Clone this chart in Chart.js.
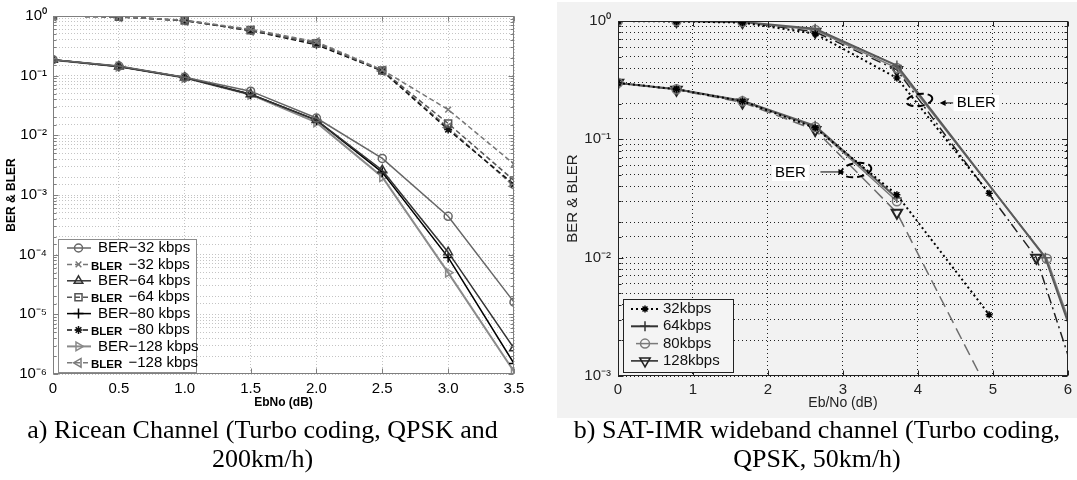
<!DOCTYPE html>
<html><head><meta charset="utf-8">
<script src="https://cdn.jsdelivr.net/npm/chart.js@4/dist/chart.umd.min.js"></script>
<style>
html,body{margin:0;padding:0;background:#fff;width:1077px;height:480px;overflow:hidden;}
#a{position:absolute;left:0;top:0;width:540px;height:418px;background:#fff;}
#b{position:absolute;left:557px;top:2px;width:520px;height:416px;background:#f2f2f2;}
.cap{position:absolute;font-family:'Liberation Serif','Times New Roman',serif;font-size:26px;line-height:29px;color:#000;text-align:center;white-space:nowrap;}
</style></head><body>
<div id="a"><canvas id="ca" width="540" height="418"></canvas></div>
<div id="b"><canvas id="cb" width="520" height="416"></canvas></div>
<div class="cap" style="left:0;top:415px;width:525px">a) Ricean Channel (Turbo coding, QPSK and<br>200km/h)</div>
<div class="cap" style="left:557px;top:415px;width:520px">b) SAT-IMR wideband channel (Turbo coding,<br>QPSK, 50km/h)</div>
<script>
// ---------- (a) Ricean channel data ----------
const ricX = [0, 0.5, 1, 1.5, 2, 2.5, 3, 3.5];
const ricBer32   = [0.185, 0.145, 0.094, 0.055, 0.0195, 0.0041, 4.4e-4, 1.6e-5];
const ricBler32  = [1.0, 0.97, 0.85, 0.60, 0.37, 0.125, 0.027, 0.0033];
const ricBer64   = [0.185, 0.143, 0.093, 0.049, 0.018, 0.0026, 1.1e-4, 2.7e-6];
const ricBler64  = [1.0, 0.97, 0.84, 0.58, 0.35, 0.122, 0.0158, 0.00175];
const ricBer80   = [0.184, 0.143, 0.093, 0.049, 0.018, 0.0024, 9.0e-5, 1.5e-6];
const ricBler80  = [1.0, 0.97, 0.84, 0.57, 0.33, 0.12, 0.0125, 0.0015];
const ricBer128  = [0.183, 0.142, 0.092, 0.048, 0.0165, 0.0020, 5.0e-5, 1.1e-6];
const ricBler128 = [1.0, 0.97, 0.84, 0.57, 0.36, 0.12, 0.0135, 0.0014];
const ricLabels = ['BER\u221232 kbps','BLER \u221232 kbps','BER\u221264 kbps','BLER \u221264 kbps',
                   'BER\u221280 kbps','BLER \u221280 kbps','BER\u2212128 kbps','BLER \u2212128 kbps'];

// ---------- (b) SAT-IMR data ----------
const satX      = [0, 0.78, 1.66, 2.63, 3.72];
const satX32    = [0, 0.78, 1.66, 2.63, 3.72, 4.95];
const satBer32  = [0.30, 0.265, 0.21, 0.125, 0.034, 0.0033];
const satBler32 = [1.0, 0.99, 0.97, 0.78, 0.33, 0.035];
const satBer64  = [0.30, 0.265, 0.212, 0.13, 0.032];
const satXBler64 = [0, 0.78, 1.66, 2.63, 3.72, 5.70, 6.5];
const satBler64 = [1.0, 1.0, 0.98, 0.86, 0.42, 0.0100, 0.00036];
const satBer80  = [0.30, 0.265, 0.21, 0.127, 0.030];
const satXBler80 = [0, 0.78, 1.66, 2.63, 3.72, 5.72, 6.5];
const satBler80 = [1.0, 1.0, 0.98, 0.84, 0.40, 0.0098, 0.0004];
const satXBer128 = [0, 0.78, 1.66, 2.63, 3.72, 5.58];
const satBer128 = [0.30, 0.263, 0.205, 0.12, 0.024, 0.00012];
const satXBler128 = [0, 0.78, 1.66, 2.63, 3.72, 5.58, 6.5];
const satBler128 = [1.0, 1.0, 0.98, 0.81, 0.386, 0.0100, 0.00016];
const satLabels = ['32kbps', '64kbps', '80kbps', '128kbps'];
const satNotes = [
  {text:'BER',  tx:2.30, ty:0.052, ex:3.18, ey:0.055, ax0:2.70, ax1:3.02, ay:0.053},
  {text:'BLER', tx:4.78, ty:0.203, ex:4.02, ey:0.215, ax0:4.47, ax1:4.29, ay:0.203}
];

const FA = "'Liberation Sans', Arial, Helvetica, sans-serif";
const SUP = {'-':'\u207B','0':'\u2070','1':'\u00B9','2':'\u00B2','3':'\u00B3','4':'\u2074','5':'\u2075','6':'\u2076','7':'\u2077','8':'\u2078','9':'\u2079'};
function logLabel(v){
  const e = Math.round(Math.log10(v));
  if (Math.abs(v/Math.pow(10,e) - 1) > 1e-6) return '';
  return '10' + String(e).split('').map(c => SUP[c]).join('');
}

function drawMarker(ctx, style, x, y, r, rot, color, lw){
  ctx.save();
  ctx.translate(x, y); ctx.rotate((rot||0)*Math.PI/180);
  ctx.strokeStyle = color; ctx.lineWidth = lw; ctx.setLineDash([]);
  ctx.beginPath();
  const d = r*Math.SQRT1_2;
  if (style === 'circle') ctx.arc(0,0,r,0,Math.PI*2);
  else if (style === 'triangle') { ctx.moveTo(0,-r); ctx.lineTo(r*0.866,r*0.5); ctx.lineTo(-r*0.866,r*0.5); ctx.closePath(); }
  else if (style === 'rect') ctx.rect(-d,-d,2*d,2*d);
  else if (style === 'cross') { ctx.moveTo(0,-r); ctx.lineTo(0,r); ctx.moveTo(-r,0); ctx.lineTo(r,0); }
  else if (style === 'crossRot') { ctx.moveTo(-d,-d); ctx.lineTo(d,d); ctx.moveTo(-d,d); ctx.lineTo(d,-d); }
  else if (style === 'star') { ctx.moveTo(0,-r); ctx.lineTo(0,r); ctx.moveTo(-r,0); ctx.lineTo(r,0); ctx.moveTo(-d,-d); ctx.lineTo(d,d); ctx.moveTo(-d,d); ctx.lineTo(d,-d); }
  ctx.stroke();
  ctx.restore();
}

function ser(xs, ys, label, color, dash, style, rot, r, lw, extra){
  return Object.assign({
    label, data: xs.map((x,i) => ({x, y: ys[i]})),
    borderColor: color, borderWidth: lw, borderDash: dash,
    pointStyle: style, pointRotation: rot, pointRadius: r,
    pointBorderColor: color, pointBackgroundColor: 'rgba(0,0,0,0)', pointBorderWidth: 1.5,
    fill: false, tension: 0
  }, extra || {});
}

function drawFrameAndTicks(chart, color){
  const ctx = chart.ctx, a = chart.chartArea;
  ctx.save();
  ctx.strokeStyle = color; ctx.lineWidth = 1; ctx.setLineDash([]);
  const L = Math.round(a.left)+0.5, T = Math.round(a.top)+0.5, R = Math.round(a.right)-0.5, B = Math.round(a.bottom)-0.5;
  ctx.strokeRect(L, T, R-L, B-T);
  ctx.beginPath();
  chart.scales.y.ticks.forEach(t => {
    const py = Math.round(chart.scales.y.getPixelForValue(t.value))+0.5;
    const len = t.major ? 5 : 3;
    ctx.moveTo(L, py); ctx.lineTo(L+len, py);
    ctx.moveTo(R, py); ctx.lineTo(R-len, py);
  });
  chart.scales.x.ticks.forEach(t => {
    const px = Math.round(chart.scales.x.getPixelForValue(t.value))+0.5;
    ctx.moveTo(px, B); ctx.lineTo(px, B-5);
    ctx.moveTo(px, T); ctx.lineTo(px, T+5);
  });
  ctx.stroke();
  ctx.restore();
}

// ---------- chart (a) ----------
const leftPlugin = {
  id: 'leftExtras',
  afterDatasetsDraw(chart){
    drawFrameAndTicks(chart, '#7f7f7f');
    const ctx = chart.ctx, a = chart.chartArea;
    const L = a.left + 5, R = a.left + 143, T = a.bottom - 135, B = a.bottom - 2;
    ctx.save();
    ctx.fillStyle = '#fff'; ctx.fillRect(L, T, R-L, B-T);
    ctx.strokeStyle = '#8c8c8c'; ctx.lineWidth = 1; ctx.strokeRect(Math.round(L)+0.5, Math.round(T)+0.5, R-L, B-T);
    chart.data.datasets.forEach((ds, i) => {
      const y = T + 9 + i*16.4;
      const isBler = ds.label.startsWith('BLER');
      ctx.strokeStyle = ds.borderColor; ctx.lineWidth = ds.borderWidth; ctx.setLineDash(ds.borderDash || []);
      ctx.beginPath(); ctx.moveTo(L+9, y); ctx.lineTo(L+(isBler?31:33), y); ctx.stroke(); ctx.setLineDash([]);
      drawMarker(ctx, ds.pointStyle, L+20.5, y, ds.pointRadius, ds.pointRotation, ds.borderColor, 1.5);
      ctx.fillStyle = '#000'; ctx.textBaseline = 'middle'; ctx.textAlign = 'left';
      let label = ds.label, tx = L + 40;
      if (isBler) {
        ctx.font = 'bold 11.5px ' + FA;
        ctx.fillText('BLER', L+33, y+2);
        tx = L + 33 + ctx.measureText('BLER').width + 2;
        label = label.slice(4);
      }
      ctx.font = '15px ' + FA;
      ctx.fillText(label, tx, y);
    });
    ctx.restore();
  }
};

new Chart(document.getElementById('ca'), {
  type: 'line',
  data: { datasets: [
    ser(ricX, ricBer32,  ricLabels[0], '#666666', [],    'circle',   0,   4,   1.5),
    ser(ricX, ricBler32, ricLabels[1], '#777777', [5,3], 'crossRot', 0,   4,   1.5),
    ser(ricX, ricBer64,  ricLabels[2], '#333333', [],    'triangle', 0,   5,   1.5),
    ser(ricX, ricBler64, ricLabels[3], '#555555', [5,3], 'rect',     0,   5,   1.5),
    ser(ricX, ricBer80,  ricLabels[4], '#000000', [],    'cross',    0,   5,   1.5),
    ser(ricX, ricBler80, ricLabels[5], '#111111', [5,3], 'star',     0,   4,   1.5),
    ser(ricX, ricBer128, ricLabels[6], '#8a8a8a', [],    'triangle', 90,  5,   2),
    ser(ricX, ricBler128,ricLabels[7], '#7a7a7a', [5,3], 'triangle', 270, 5,   1.5)
  ]},
  options: {
    responsive: false, animation: false, devicePixelRatio: 1,
    layout: { padding: { left: 0, top: 16, right: 26, bottom: 0 } },
    plugins: { legend: { display: false }, tooltip: { enabled: false } },
    scales: {
      x: {
        type: 'linear', min: 0, max: 3.5,
        ticks: { stepSize: 0.5, autoSkip: false, maxRotation: 0, padding: 6, color: '#000', font: { family: FA, size: 15 } },
        grid: { color: '#c4c4c4', lineWidth: 1, drawTicks: false },
        border: { display: false, dash: [1, 2] },
        title: { display: true, text: 'EbNo (dB)', color: '#000', font: { family: FA, size: 12, weight: 'bold' }, padding: { top: 0, bottom: 8 } },
        afterFit(s){ s.height = 44; }
      },
      y: {
        type: 'logarithmic', min: 1e-6, max: 1,
        ticks: { autoSkip: false, padding: 6, color: '#000', font: { family: FA, size: 15 }, callback: v => logLabel(v) },
        grid: { color: '#c4c4c4', lineWidth: 1, drawTicks: false },
        border: { display: false, dash: [1, 2] },
        title: { display: true, text: 'BER & BLER', color: '#000', font: { family: FA, size: 12, weight: 'bold' }, padding: { top: 4, bottom: 0 } },
        afterFit(s){ s.width = 53; }
      }
    }
  },
  plugins: [leftPlugin]
});

// ---------- chart (b) ----------
const rightPlugin = {
  id: 'rightExtras',
  afterDatasetsDraw(chart){
    drawFrameAndTicks(chart, '#222222');
    const ctx = chart.ctx, a = chart.chartArea, xs = chart.scales.x, ys = chart.scales.y;
    ctx.save();
    satNotes.forEach((n, k) => {
      const cx = xs.getPixelForValue(n.ex), cy = ys.getPixelForValue(n.ey);
      ctx.strokeStyle = '#000'; ctx.lineWidth = 2; ctx.setLineDash([7, 4]);
      ctx.beginPath(); ctx.ellipse(cx, cy, k === 0 ? 15 : 13, k === 0 ? 7 : 6, -0.15, 0, Math.PI*2); ctx.stroke();
      ctx.setLineDash([]);
      ctx.font = '15px ' + FA;
      const tw = ctx.measureText(n.text).width;
      const tx = xs.getPixelForValue(n.tx), ty = ys.getPixelForValue(n.ty);
      ctx.fillStyle = '#fff'; ctx.fillRect(tx - tw/2 - 3, ty - 8, tw + 6, 16);
      ctx.fillStyle = '#000'; ctx.textAlign = 'center'; ctx.textBaseline = 'middle';
      ctx.fillText(n.text, tx, ty);
      const x0 = xs.getPixelForValue(n.ax0), x1 = xs.getPixelForValue(n.ax1), ay = ys.getPixelForValue(n.ay);
      const dir = Math.sign(x1 - x0);
      ctx.lineWidth = 1; ctx.strokeStyle = '#000';
      ctx.beginPath(); ctx.moveTo(x0, ay); ctx.lineTo(x1 - dir*4, ay); ctx.stroke();
      ctx.beginPath(); ctx.moveTo(x1, ay); ctx.lineTo(x1 - dir*6, ay - 3); ctx.lineTo(x1 - dir*6, ay + 3); ctx.closePath(); ctx.fill();
    });
    const L = a.left + 5, R = a.left + 115, T = a.bottom - 77, B = a.bottom - 4;
    ctx.fillStyle = '#f4f4f4'; ctx.fillRect(L, T, R-L, B-T);
    ctx.strokeStyle = '#222'; ctx.lineWidth = 1; ctx.strokeRect(Math.round(L)+0.5, Math.round(T)+0.5, R-L, B-T);
    const legendIdx = [0, 2, 4, 6];
    legendIdx.forEach((di, i) => {
      const ds = chart.data.datasets[di];
      const y = T + 10 + i*17.3;
      ctx.strokeStyle = ds.legendColor || ds.borderColor; ctx.lineWidth = ds.borderWidth;
      ctx.setLineDash(ds.legendDash || []);
      ctx.beginPath(); ctx.moveTo(L + (i === 2 ? 13 : 8), y); ctx.lineTo(L + 35, y); ctx.stroke(); ctx.setLineDash([]);
      drawMarker(ctx, ds.pointStyle, L + 22, y, ds.pointRadius, ds.pointRotation, ds.legendColor || ds.borderColor, 1.5);
      ctx.fillStyle = '#111'; ctx.font = '15px ' + FA; ctx.textAlign = 'left'; ctx.textBaseline = 'middle';
      ctx.fillText(satLabels[i], L + 40, y);
    });
    ctx.restore();
  }
};

new Chart(document.getElementById('cb'), {
  type: 'line',
  data: { datasets: [
    ser(satX32, satBer32,  satLabels[0]+' BER',  '#000000', [2,3],  'star',     0,   3.5, 2,   {legendDash:[2,3]}),
    ser(satX32, satBler32, satLabels[0]+' BLER', '#000000', [2,3],  'star',     0,   3.5, 2),
    ser(satX, satBer64,    satLabels[1]+' BER',  '#5a5a5a', [],     'cross',    0,   5,   2,   {legendColor:'#333'}),
    ser(satXBler64, satBler64, satLabels[1]+' BLER', '#5a5a5a', [], 'cross',    0,   5,   2),
    ser(satX, satBer80,    satLabels[2]+' BER',  '#7a7a7a', [],     'circle',   0,   4.5, 1.5),
    ser(satXBler80, satBler80, satLabels[2]+' BLER', '#7a7a7a', [], 'circle',   0,   4.5, 1.5),
    ser(satXBer128, satBer128, satLabels[3]+' BER',  '#6e6e6e', [12,6], 'triangle', 180, 6, 1.5, {legendColor:'#222', pointBorderColor:'#222', pointBorderWidth:2}),
    ser(satXBler128, satBler128, satLabels[3]+' BLER', '#222222', [10,4,2,4], 'triangle', 180, 6, 1.5, {pointBorderColor:'#222', pointBorderWidth:2})
  ]},
  options: {
    responsive: false, animation: false, devicePixelRatio: 1,
    layout: { padding: { left: 0, top: 19, right: 4, bottom: 0 } },
    plugins: { legend: { display: false }, tooltip: { enabled: false } },
    scales: {
      x: {
        type: 'linear', min: 0, max: 6,
        ticks: { stepSize: 1, autoSkip: false, maxRotation: 0, padding: 5, color: '#222', font: { family: FA, size: 15 } },
        grid: { color: '#222', lineWidth: 1, drawTicks: false },
        border: { display: false, dash: [1, 3] },
        title: { display: true, text: 'Eb/No (dB)', color: '#222', font: { family: FA, size: 14 }, padding: { top: 0, bottom: 6 } },
        afterFit(s){ s.height = 42; }
      },
      y: {
        type: 'logarithmic', min: 1e-3, max: 1,
        ticks: { autoSkip: false, padding: 7, color: '#222', font: { family: FA, size: 15 }, callback: v => logLabel(v) },
        grid: { color: '#222', lineWidth: 1, drawTicks: false },
        border: { display: false, dash: [1, 3] },
        title: { display: true, text: 'BER & BLER', color: '#222', font: { family: FA, size: 15 }, padding: { top: 7, bottom: 0 } },
        afterFit(s){ s.width = 61; }
      }
    }
  },
  plugins: [rightPlugin]
});
</script>
</body></html>
